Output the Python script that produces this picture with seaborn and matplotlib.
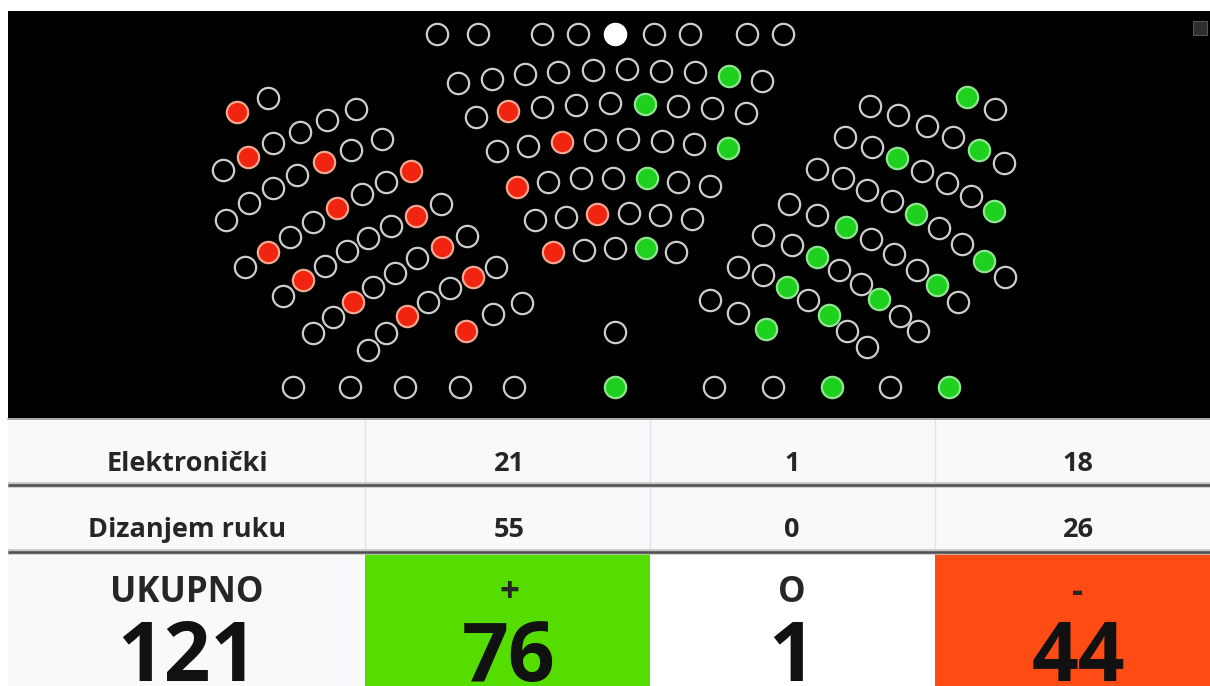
import numpy as np
import pandas as pd
import matplotlib
matplotlib.use('Agg')
import matplotlib.pyplot as plt
from matplotlib.patches import Rectangle
import seaborn as sns

# seats: (x, y, vote)  vote: 'plus', 'minus', 'zero', 'none'
top_row = [(437, 34, 'none'), (478, 34, 'none'), (542, 34, 'none'), (578, 34, 'none'),
           (615, 34, 'zero'), (654, 34, 'none'), (690, 34, 'none'), (747, 34, 'none'),
           (783, 34, 'none')]

center_block = [
    (458, 83, 'none'), (492, 79, 'none'), (525, 74, 'none'), (558, 72, 'none'), (593, 70, 'none'),
    (627, 69, 'none'), (661, 71, 'none'), (695, 72, 'none'), (729, 76, 'plus'), (762, 81, 'none'),
    (476, 117, 'none'), (508, 111, 'minus'), (542, 107, 'none'), (576, 105, 'none'), (610, 103, 'none'),
    (645, 104, 'plus'), (678, 106, 'none'), (712, 108, 'none'), (746, 113, 'none'),
    (497, 151, 'none'), (528, 146, 'none'), (562, 142, 'minus'), (595, 140, 'none'), (628, 139, 'none'),
    (662, 141, 'none'), (694, 144, 'none'), (728, 148, 'plus'),
    (517, 187, 'minus'), (548, 182, 'none'), (581, 178, 'none'), (613, 178, 'none'), (647, 178, 'plus'),
    (678, 182, 'none'), (710, 186, 'none'),
    (535, 220, 'none'), (566, 217, 'none'), (597, 214, 'minus'), (629, 213, 'none'), (660, 215, 'none'),
    (692, 219, 'none'),
    (553, 252, 'minus'), (584, 250, 'none'), (615, 248, 'none'), (646, 248, 'plus'), (676, 252, 'none'),
    (615, 332, 'none'),
]

left_block = [
    (237, 112, 'minus'), (268, 98, 'none'),
    (223, 170, 'none'), (248, 157, 'minus'), (273, 143, 'none'), (300, 132, 'none'), (327, 120, 'none'),
    (356, 109, 'none'),
    (226, 220, 'none'), (249, 203, 'none'), (273, 188, 'none'), (297, 175, 'none'), (324, 162, 'minus'),
    (351, 150, 'none'), (382, 139, 'none'),
    (290, 237, 'none'), (313, 222, 'none'), (337, 208, 'minus'), (362, 194, 'none'), (386, 182, 'none'),
    (411, 171, 'minus'),
    (245, 267, 'none'), (268, 252, 'minus'), (391, 226, 'none'), (416, 216, 'minus'), (441, 204, 'none'),
    (283, 296, 'none'), (303, 280, 'minus'), (325, 266, 'none'), (347, 251, 'none'), (368, 238, 'none'),
    (313, 333, 'none'), (333, 317, 'none'), (353, 302, 'minus'), (373, 287, 'none'), (395, 273, 'none'),
    (417, 258, 'none'), (442, 247, 'minus'), (467, 236, 'none'),
    (368, 350, 'none'), (386, 333, 'none'), (407, 316, 'minus'), (428, 302, 'none'), (450, 288, 'none'),
    (473, 277, 'minus'), (496, 267, 'none'),
    (466, 331, 'minus'), (493, 314, 'none'), (522, 303, 'none'),
]

right_block = [
    (870, 106, 'none'), (898, 115, 'none'), (927, 126, 'none'), (953, 137, 'none'), (967, 97, 'plus'),
    (995, 109, 'none'), (979, 150, 'plus'), (1004, 163, 'none'),
    (845, 137, 'none'), (872, 147, 'none'), (897, 158, 'plus'), (922, 171, 'none'), (947, 183, 'none'),
    (971, 196, 'none'), (994, 211, 'plus'),
    (817, 169, 'none'), (843, 178, 'none'), (867, 190, 'none'), (892, 201, 'none'), (916, 214, 'plus'),
    (939, 228, 'none'), (962, 244, 'none'), (984, 261, 'plus'), (1005, 277, 'none'),
    (789, 204, 'none'), (817, 215, 'none'), (846, 227, 'plus'), (871, 239, 'none'), (894, 254, 'none'),
    (917, 270, 'none'), (937, 285, 'plus'), (958, 302, 'none'),
    (763, 235, 'none'), (792, 245, 'none'), (817, 257, 'plus'), (839, 270, 'none'), (861, 284, 'none'),
    (879, 299, 'plus'), (900, 316, 'none'), (918, 331, 'none'),
    (738, 267, 'none'), (763, 275, 'none'), (787, 287, 'plus'), (808, 300, 'none'), (829, 315, 'plus'),
    (847, 331, 'none'), (867, 347, 'none'),
    (710, 300, 'none'), (738, 313, 'none'), (766, 329, 'plus'),
]

bottom_row = [(293, 387, 'none'), (350, 387, 'none'), (405, 387, 'none'), (460, 387, 'none'),
              (514, 387, 'none'), (615, 387, 'plus'), (714, 387, 'none'), (773, 387, 'none'),
              (832, 387, 'plus'), (890, 387, 'none'), (949, 387, 'plus')]

# results table
row_labels = ['Elektronički', 'Dizanjem ruku']
electronic = [21, 1, 18]
hands = [55, 0, 26]
col_symbols = ['+', 'O', '-']
totals = [76, 1, 44]
total_label = 'UKUPNO'
total_all = 121

seats = pd.DataFrame(top_row + center_block + left_block + right_block + bottom_row,
                     columns=['x', 'y', 'vote'])

sns.set_style('white')
plt.rcParams['font.family'] = ['Open Sans', 'DejaVu Sans']

fig = plt.figure(figsize=(12.1, 6.86), dpi=100)
ax = fig.add_axes([0, 0, 1, 1])
ax.set_facecolor('white')

# black hall panel
ax.add_patch(Rectangle((8, 11), 1202, 407, facecolor='black', edgecolor='none', zorder=0))
ax.add_patch(Rectangle((1193, 21), 14, 14, facecolor='#2e2e2e', edgecolor='#555555', lw=0.8, zorder=1))

styles = {
    'none': ('black', '#cdcdcd'),
    'plus': ('#1fd11f', '#8fe58f'),
    'minus': ('#f0240f', '#f4a892'),
    'zero': ('#ffffff', '#ffffff'),
}
for vote, (fc, ec) in styles.items():
    sub = seats[seats['vote'] == vote]
    sns.scatterplot(data=sub, x='x', y='y', ax=ax, s=235, color=fc,
                    edgecolor=ec, linewidth=1.6, legend=False, zorder=3)

# table
col_x = [8, 365, 650, 935, 1210]
row_y = [420, 486, 553, 686]
ax.add_patch(Rectangle((8, 418), 1202, 268, facecolor='#f9f9fb', edgecolor='none', zorder=0))
ax.add_patch(Rectangle((col_x[1], row_y[2]), col_x[2] - col_x[1], row_y[3] - row_y[2],
                       facecolor='#56dd00', edgecolor='none', zorder=1))
ax.add_patch(Rectangle((col_x[3], row_y[2]), col_x[4] - col_x[3], row_y[3] - row_y[2],
                       facecolor='#ff4b14', edgecolor='none', zorder=1))
ax.add_patch(Rectangle((col_x[2], row_y[2]), col_x[3] - col_x[2], row_y[3] - row_y[2],
                       facecolor='white', edgecolor='none', zorder=1))
for xv in col_x[1:4]:
    ax.plot([xv, xv], [420, 552], color='#e2e2e6', lw=1, zorder=2)
for yv in [485, 552]:
    ax.plot([8, 1210], [yv, yv], color='#c4c4c4', lw=4, zorder=2, solid_capstyle='butt')
    ax.plot([8, 1210], [yv, yv], color='#4e4e4e', lw=1.8, zorder=2, solid_capstyle='butt')
ax.plot([8, 1210], [418.5, 418.5], color='#9a9a9a', lw=1.2, zorder=2)

base1, base2 = 471, 537
small, mid, big = 19.5, 25, 59
ax.text(187, base1, row_labels[0], ha='center', va='baseline', fontsize=small, fontweight='bold')
ax.text(187, base2, row_labels[1], ha='center', va='baseline', fontsize=small, fontweight='bold')
for i in range(3):
    cx = [509, 792, 1078][i]
    ax.text(cx, base1, str(electronic[i]), ha='center', va='baseline', fontsize=small, fontweight='bold')
    ax.text(cx, base2, str(hands[i]), ha='center', va='baseline', fontsize=small, fontweight='bold')
    ax.text(cx, 602, col_symbols[i], ha='center', va='baseline', fontsize=mid, fontweight='bold')
    ax.text(cx, 681, str(totals[i]), ha='center', va='baseline', fontsize=big, fontweight='bold',
            color='#111111')
ax.text(187, 602, total_label, ha='center', va='baseline', fontsize=mid, fontweight='bold')
ax.text(187, 681, str(total_all), ha='center', va='baseline', fontsize=big, fontweight='bold',
        color='#111111')

ax.set_xlim(0, 1210)
ax.set_ylim(686, 0)
ax.axis('off')
fig.savefig('out.png', dpi=100, facecolor='white')
